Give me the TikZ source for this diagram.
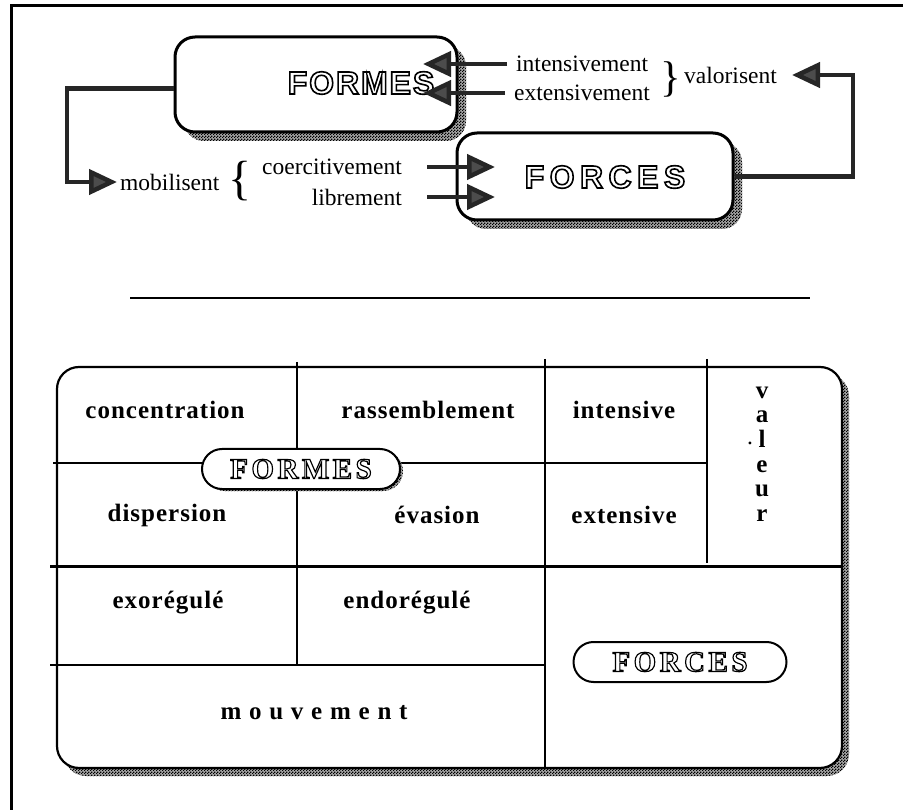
\documentclass[tikz,border=0pt]{standalone}
\usepackage{fontspec}
\setmainfont{Liberation Serif}
\newfontfamily\outsans{Liberation Sans Bold}[FakeBold=5]
\newfontfamily\outserif{Liberation Serif Bold}[FakeBold=4]
\usetikzlibrary{arrows.meta,patterns,shadows}

% checkered halftone used for the shadows
\pgfdeclarepatternformonly{halftone}{\pgfqpoint{0pt}{0pt}}{\pgfqpoint{3pt}{3pt}}{\pgfqpoint{3pt}{3pt}}{%
  \pgfpathrectangle{\pgfqpoint{0pt}{0pt}}{\pgfqpoint{1.5pt}{1.5pt}}%
  \pgfpathrectangle{\pgfqpoint{1.5pt}{1.5pt}}{\pgfqpoint{1.5pt}{1.5pt}}%
  \pgfusepath{fill}}

% white letters stroked in black
\newcommand\hollow[1]{{\color{white}\special{pdf:code 0 G}#1}}

\tikzset{
  conn/.style={draw=black!85, line width=4.5pt},
  headed/.style={-{Triangle[length=28pt,width=25pt,fill=black!70]}},
  halftoned/.style={fill=black!35, postaction={pattern=halftone}},
  topbox/.style={draw, line width=3pt, rounded corners=20pt, fill=white, inner sep=0pt,
                 drop shadow={shadow xshift=9pt, shadow yshift=-9pt, opacity=1, halftoned}},
  pill/.style={draw, line width=2pt, rounded corners=20pt, fill=white, inner sep=0pt,
               minimum height=40pt},
  word/.style={inner sep=0pt, font=\fontsize{23.5}{26}\selectfont},
  cell/.style={inner sep=0pt, font=\fontsize{25}{24.6}\selectfont\bfseries\addfontfeature{LetterSpace=#1}},
  cell/.default=4,
  hollowsans/.style={inner sep=0pt, font=\outsans\fontsize{32}{34}\selectfont\addfontfeature{LetterSpace=#1}},
  hollowsans/.default=6,
  hollowserif/.style={font=\outserif\fontsize{29}{31}\selectfont\addfontfeature{LetterSpace=12}}
}

\begin{document}
\begin{tikzpicture}[x=1pt,y=-1pt]
\useasboundingbox (0,0) rectangle (903,810);
% page frame
\draw[line width=3pt] (11,810) -- (11,6) -- (903,6);

% upper scheme
\node[topbox, minimum width=282pt, minimum height=95pt] (formes) at (316,84.5) {};
\node[hollowsans] (formesT) at (361,83) {\hollow{FORMES}};
\node[topbox, minimum width=276pt, minimum height=87pt] (forces) at (595,176.5) {};
\node[hollowsans=17] (forcesT) at (605,177) {\hollow{FORCES}};

\node[word, anchor=west] (intens) at (516,64) {intensivement};
\node[word, anchor=west] (extens) at (514,93) {extensivement};
\node[word] (braceV) at (671,79) {\fontsize{43}{43}\selectfont\}};
\node[word, anchor=west] (valor) at (684,75) {valorisent};
\node[word, anchor=west] (mob) at (120,182) {mobilisent};
\node[word] (braceM) at (240,181) {\fontsize{48}{48}\selectfont\{};
\node[word, anchor=east] (coerc) at (402,167) {coercitivement};
\node[word, anchor=east] (libre) at (402,197) {librement};

\coordinate (tipI) at (423,64);
\coordinate (tipE) at (423,93);
\coordinate (tipC) at (495,167);
\coordinate (tipL) at (495,197);
\coordinate (turnL) at (67,182);
\coordinate (turnR) at (853,75);
\coordinate (tipV) at (792,75);

\draw[conn, headed, shorten <=9pt] (intens.west) -- (tipI);
\draw[conn, headed, shorten <=9pt] (extens.west) -- (tipE);
\draw[conn, headed, shorten <=25pt] (coerc.east) -- (tipC);
\draw[conn, headed, shorten <=25pt] (libre.east) -- (tipL);
\draw[conn, headed, shorten >=3pt] ([yshift=-4pt]formes.west) -| (turnL) -- (mob.west);
\draw[conn, headed] (forces.east) -| (turnR) -- (tipV);

% separating rule
\draw[line width=1.3pt] (130,298) -- (810,298);

% lower table
\path[halftoned, rounded corners=22pt] (64,374) rectangle (849,776);
\draw[line width=2.2pt, fill=white, rounded corners=22pt] (57,367) rectangle (842,768);
\begin{scope}[line width=1.6pt]
  \draw (297,362) -- (297,566);
  \draw (545,359) -- (545,768);
  \draw (707,359) -- (707,563);
  \draw (53,463) -- (707,463);
  \draw (297,566) -- (297,665);
\end{scope}
\draw[line width=3pt] (50,566) -- (842,566);
\draw[line width=2.2pt] (50,665) -- (545,665);

\node[cell] (conc) at (165,410) {concentration};
\node[cell] (rass) at (428,410) {rassemblement};
\node[cell] (inten) at (624,410) {intensive};
\node[cell] (disp) at (167,515) {dispersion};
\node[cell] (evas) at (437,515) {évasion};
\node[cell] (exten) at (624,515) {extensive};
\node[cell, align=center] (val) at (762,454) {v\\a\\l\\e\\u\\r};
\node[word] (valdot) at (750,443) {.};
\node[cell] (exo) at (168,603) {exorégulé};
\node[cell] (endo) at (407,603) {endorégulé};
\node[cell=31] (mouv) at (314,713) {mouvement};

\node[pill, hollowserif, minimum width=198pt,
      drop shadow={shadow xshift=3pt, shadow yshift=-2pt, opacity=1, halftoned}]
      (tformes) at (301,469) {\hollow{FORMES}};
\node[pill, hollowserif, minimum width=213pt] (tforces) at (680,662) {\hollow{FORCES}};
\end{tikzpicture}
\end{document}
